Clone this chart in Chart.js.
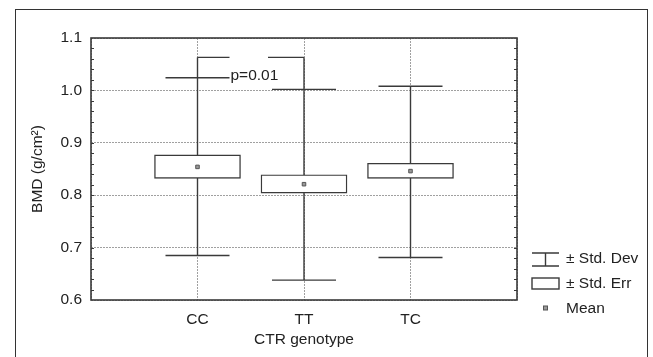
<!DOCTYPE html>
<html>
<head>
<meta charset="utf-8">
<script src="https://cdn.jsdelivr.net/npm/chart.js@4"></script>
<style>
  body { margin: 0; background: #fff; }
  #wrap { position: relative; width: 653px; height: 357px; }
  #frame { position: absolute; left: 15px; top: 9px; width: 631px; height: 360px;
           border: 1.5px solid #333; border-bottom: none; }
  canvas { position: absolute; left: 0; top: 0; }
</style>
</head>
<body>
<div id="wrap">
  <div id="frame"></div>
  <canvas id="myChart" width="653" height="357"></canvas>
</div>
<script>
// Datos
let genotipos = ["CC", "TT", "TC"]
let medias = [0.854, 0.821, 0.846]
let errBajo = [0.832, 0.804, 0.832]
let errAlto = [0.877, 0.839, 0.861]
let desvBajo = [0.685, 0.638, 0.681]
let desvAlto = [1.024, 1.002, 1.008]
let corchete = 1.063
let pTexto = "p=0.01"
let yTicks = [0.6, 0.7, 0.8, 0.9, 1.0, 1.1]

const fuente = '"Liberation Sans", Arial, sans-serif'
const tam = 15.5
const linea = '#3a3a3a'

// categorias con hueco a cada lado
let etiquetas = [''].concat(genotipos, [''])
let cajas = [null].concat(genotipos.map((g, i) => [errBajo[i], errAlto[i]]), [null])
let puntos = [null].concat(medias, [null])

const bigotes = {
    id: 'bigotes',
    beforeDatasetsDraw(chart) {
        const x = chart.scales.x, y = chart.scales.y, c = chart.ctx
        c.save()
        c.strokeStyle = linea
        c.lineWidth = 1.4
        genotipos.forEach((g, i) => {
            let px = x.getPixelForValue(i + 1)
            let top = desvAlto[i]
            if (i < 2) top = corchete
            c.beginPath()
            c.moveTo(px, y.getPixelForValue(desvBajo[i]))
            c.lineTo(px, y.getPixelForValue(top))
            c.stroke()
            ;[desvBajo[i], desvAlto[i]].forEach(v => {
                c.beginPath()
                c.moveTo(px - 32, y.getPixelForValue(v))
                c.lineTo(px + 32, y.getPixelForValue(v))
                c.stroke()
            })
        })
        // corchete p
        let xa = x.getPixelForValue(1), xb = x.getPixelForValue(2), yc = y.getPixelForValue(corchete)
        c.beginPath()
        c.moveTo(xa, yc); c.lineTo(xa + 32, yc)
        c.moveTo(xb - 36, yc); c.lineTo(xb, yc)
        c.stroke()
        c.fillStyle = '#222'
        c.font = tam + 'px ' + fuente
        c.textBaseline = 'middle'
        c.fillText(pTexto, xa + 33, y.getPixelForValue(desvAlto[0]) - 2)
        c.restore()
    },
    afterDraw(chart) {
        const a = chart.chartArea, y = chart.scales.y, c = chart.ctx
        c.save()
        c.strokeStyle = linea
        // marcas menores
        c.lineWidth = 1
        for (let v = 0.62; v < 1.1; v += 0.02) {
            let py = Math.round(y.getPixelForValue(v)) + 0.5
            c.beginPath()
            c.moveTo(a.left, py); c.lineTo(a.left + 3, py)
            c.moveTo(a.right, py); c.lineTo(a.right - 3, py)
            c.stroke()
        }
        // marco
        c.lineWidth = 1.6
        c.strokeRect(a.left, a.top, a.right - a.left, a.bottom - a.top)
        // leyenda
        let lx = 532, tx = 566
        c.lineWidth = 1.4
        c.beginPath()
        c.moveTo(lx, 253); c.lineTo(lx + 27, 253)
        c.moveTo(lx, 266); c.lineTo(lx + 27, 266)
        c.moveTo(lx + 13.5, 253); c.lineTo(lx + 13.5, 266)
        c.stroke()
        c.strokeRect(lx, 278, 27, 11)
        c.fillStyle = '#999'
        c.strokeStyle = '#555'
        c.lineWidth = 1
        c.fillRect(lx + 11.5, 306, 4, 4)
        c.strokeRect(lx + 11.5, 306, 4, 4)
        c.fillStyle = '#222'
        c.font = tam + 'px ' + fuente
        c.textBaseline = 'middle'
        c.fillText('± Std. Dev', tx, 259)
        c.fillText('± Std. Err', tx, 284)
        c.fillText('Mean', tx, 309)
        c.restore()
    }
}

const ctx = document.getElementById('myChart')
new Chart(ctx, {
    type: 'bar',
    data: {
        labels: etiquetas,
        datasets: [
            {
                label: '± Std. Err', data: cajas, backgroundColor: '#fff',
                borderColor: linea, borderWidth: 1.4, borderSkipped: false,
                barThickness: 86, grouped: false, order: 2
            },
            {
                type: 'line', label: 'Mean', data: puntos, showLine: false,
                pointStyle: 'rect', pointRadius: 2.5, pointBackgroundColor: '#999',
                pointBorderColor: '#555', pointBorderWidth: 1, order: 1
            },
        ]
    },
    options: {
        responsive: false,
        animation: false,
        layout: { padding: { left: 0, top: 38, right: 136, bottom: 0 } },
        plugins: { legend: { display: false }, tooltip: { enabled: false } },
        scales: {
            x: {
                offset: false,
                afterFit: s => { s.height = 57 },
                grid: { color: '#a0a0a0', drawTicks: false, offset: false },
                border: { display: false, dash: [2, 1] },
                ticks: { padding: 10, color: '#222', font: { size: tam, family: fuente } },
                title: {
                    display: true, text: 'CTR genotype', color: '#222',
                    font: { size: tam, family: fuente }, padding: { top: 0, bottom: 8 }
                }
            },
            y: {
                min: 0.6,
                max: 1.1,
                afterFit: s => { s.width = 91 },
                afterBuildTicks: s => { s.ticks = yTicks.map(v => ({ value: v })) },
                grid: { color: '#a0a0a0', drawTicks: false },
                border: { display: false, dash: [2, 1] },
                ticks: {
                    padding: 9, color: '#222', font: { size: tam, family: fuente },
                    callback: v => v.toFixed(1)
                },
                title: {
                    display: true, text: 'BMD (g/cm²)', color: '#222',
                    font: { size: tam, family: fuente }, padding: { top: 28, bottom: 0 }
                }
            }
        }
    },
    plugins: [bigotes]
});
</script>
</body>
</html>
